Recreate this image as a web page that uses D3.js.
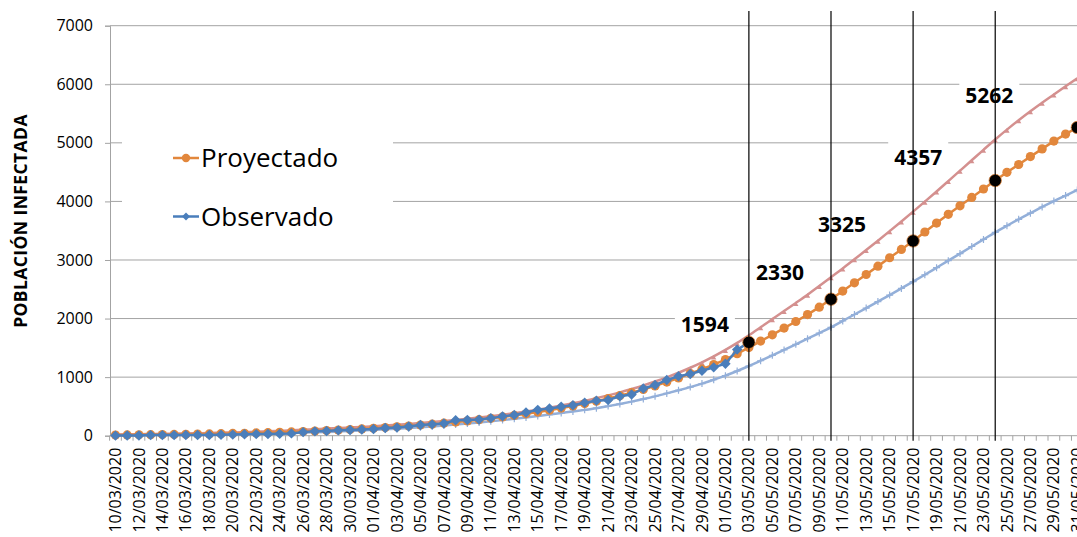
<!DOCTYPE html>
<html>
<head>
<meta charset="utf-8">
<script src="https://cdn.jsdelivr.net/npm/d3@7"></script>
<style>
  body { margin: 0; background: #fff; }
  svg { display: block; }
  text { font-family: "Open Sans", sans-serif; fill: #000; }
</style>
</head>
<body>
<svg id="chart" width="1077" height="537"></svg>
<script>
// Daily categories, 10/03/2020 – 31/05/2020
const dates = [
  "10/03/2020","11/03/2020","12/03/2020","13/03/2020","14/03/2020","15/03/2020","16/03/2020","17/03/2020",
  "18/03/2020","19/03/2020","20/03/2020","21/03/2020","22/03/2020","23/03/2020","24/03/2020","25/03/2020",
  "26/03/2020","27/03/2020","28/03/2020","29/03/2020","30/03/2020","31/03/2020",
  "01/04/2020","02/04/2020","03/04/2020","04/04/2020","05/04/2020","06/04/2020","07/04/2020","08/04/2020",
  "09/04/2020","10/04/2020","11/04/2020","12/04/2020","13/04/2020","14/04/2020","15/04/2020","16/04/2020",
  "17/04/2020","18/04/2020","19/04/2020","20/04/2020","21/04/2020","22/04/2020","23/04/2020","24/04/2020",
  "25/04/2020","26/04/2020","27/04/2020","28/04/2020","29/04/2020","30/04/2020",
  "01/05/2020","02/05/2020","03/05/2020","04/05/2020","05/05/2020","06/05/2020","07/05/2020","08/05/2020",
  "09/05/2020","10/05/2020","11/05/2020","12/05/2020","13/05/2020","14/05/2020","15/05/2020","16/05/2020",
  "17/05/2020","18/05/2020","19/05/2020","20/05/2020","21/05/2020","22/05/2020","23/05/2020","24/05/2020",
  "25/05/2020","26/05/2020","27/05/2020","28/05/2020","29/05/2020","30/05/2020","31/05/2020"
];

// Projected infected population (one value per day)
const projected = [
  11, 13, 15, 17, 19, 21, 24, 27, 30, 34,
  38, 42, 47, 52, 58, 64, 71, 79, 87, 96,
  106, 116, 127, 139, 152, 166, 181, 197, 214, 232,
  252, 273, 296, 320, 346, 374, 404, 436, 471, 508,
  548, 590, 635, 683, 735, 790, 850, 915, 985, 1060,
  1135, 1215, 1300, 1400, 1505, 1615, 1722, 1838, 1950, 2068,
  2195, 2330, 2470, 2610, 2752, 2895, 3038, 3180, 3325, 3478,
  3630, 3780, 3925, 4068, 4212, 4357, 4497, 4630, 4765, 4897,
  5030, 5150, 5262
];

// Observed cases, 10/03/2020 – 03/05/2020
const observed = [
  2, 3, 3, 10, 10, 10, 11, 11, 12, 15,
  19, 24, 27, 29, 32, 39, 61, 74, 81, 91,
  97, 107, 115, 132, 139, 157, 183, 194, 210, 264,
  268, 275, 300, 330, 354, 397, 441, 465, 493, 520,
  564, 598, 609, 672, 703, 807, 866, 950, 1014, 1053,
  1110, 1167, 1229, 1470, 1594
];

// Upper and lower band of the projection
const upperBound = [
  22, 24, 26, 29, 32, 35, 38, 42, 46, 51, 56, 62, 68, 75, 83, 91, 100, 110,
  121, 130, 140, 150, 162, 174, 187, 201, 216, 232, 249, 268, 288, 310, 333, 358, 385, 414, 445, 479, 515, 553, 595,
  640, 688, 740, 797, 858, 925, 997, 1075, 1160, 1253, 1354, 1464, 1584, 1715, 1852, 1990, 2128, 2267, 2408, 2555, 2706,
  2856, 3011, 3169, 3330, 3493, 3658, 3825, 3996, 4170, 4347, 4525, 4703, 4881, 5058, 5226, 5386, 5539, 5685, 5825, 5965, 6102
];
const lowerBound = [
  6, 7, 8, 9, 11, 12, 14, 16, 18, 21, 24, 27, 31, 35, 40, 45, 51, 57, 64, 72,
  80, 89, 99, 109, 120, 132, 145, 159, 174, 190, 207, 225, 245, 266, 288, 311, 335, 360, 387, 415, 441,
  470, 505, 542, 582, 625, 672, 722, 775, 830, 890, 955, 1025, 1105, 1190,
  1280, 1372, 1465, 1560, 1656, 1753, 1851, 1960, 2069, 2179, 2290, 2401, 2515, 2630,
  2748, 2868, 2988, 3109, 3230, 3351, 3472, 3585, 3695, 3800, 3905, 4005, 4100, 4195
];

// Highlighted weekly values
const markedDates = ["03/05/2020", "10/05/2020", "17/05/2020", "24/05/2020", "31/05/2020"];
const markedValues = [1594, 2330, 3325, 4357, 5262];
const guideDates = ["03/05/2020", "10/05/2020", "17/05/2020", "24/05/2020"];

const yTicks = [0, 1000, 2000, 3000, 4000, 5000, 6000, 7000];
const legendNames = ["Proyectado", "Observado"];
const yTitle = "POBLACIÓN INFECTADA";

// ---- layout & style ----
const plotLeft = 110, plotRight = 1077, plotTop = 25.7, plotBottom = 435.7;
const step = 11.73;
const colors = {
  projected: "#E2873C",
  observed: "#4A7EBB",
  upper: "#D4908F",
  lower: "#93AFD9",
  grid: "#A3A3A3"
};
// label placement relative to its point: [dx of text centre, dy of baseline]
const labelNudge = [[-44, -10], [-51, -19], [-71, -9], [-77, -16], [-88, -24]];

const svg = d3.select("#chart");

const x = d3.scaleBand()
  .domain(dates)
  .range([plotLeft - 0.4, plotLeft - 0.4 + dates.length * step])
  .paddingInner(0).paddingOuter(0);
const cx = d => x(d) + x.bandwidth() / 2;

const y = d3.scaleLinear().domain([0, 7000]).range([plotBottom, plotTop]);

// horizontal gridlines
svg.append("g").selectAll("line").data(yTicks.slice(1)).join("line")
  .attr("x1", plotLeft).attr("x2", plotRight)
  .attr("y1", d => y(d)).attr("y2", d => y(d))
  .attr("stroke", colors.grid).attr("stroke-width", 1);

// y axis
const yAxis = svg.append("g")
  .attr("transform", `translate(${plotLeft},0)`)
  .call(d3.axisLeft(y).tickValues(yTicks).tickSize(5).tickPadding(12).tickFormat(d3.format("d")));
yAxis.select(".domain").attr("stroke", colors.grid);
yAxis.selectAll(".tick line").attr("stroke", colors.grid);
yAxis.selectAll(".tick text").style("font-size", "16px").style("font-family", "'Open Sans', sans-serif");

// x axis: line, category boundary ticks, rotated labels every second day
const xAxis = svg.append("g").attr("transform", `translate(0,${plotBottom})`);
xAxis.append("line").attr("x1", plotLeft).attr("x2", plotRight)
  .attr("stroke", colors.grid);
xAxis.selectAll("line.bt").data(dates).join("line").attr("class", "bt")
  .attr("x1", d => x(d)).attr("x2", d => x(d))
  .attr("y1", 0).attr("y2", 5)
  .attr("stroke", colors.grid);
const labelAxis = svg.append("g")
  .attr("transform", `translate(0,${plotBottom})`)
  .call(d3.axisBottom(x).tickValues(dates.filter((d, i) => i % 2 === 0)).tickSize(0).tickPadding(0));
labelAxis.select(".domain").remove();
labelAxis.selectAll(".tick text")
  .attr("transform", "translate(0,12) rotate(-90)")
  .attr("text-anchor", "end")
  .attr("x", 0).attr("y", 0).attr("dy", "0.35em")
  .style("font-size", "16px").style("font-family", "'Open Sans', sans-serif");

// y axis title
svg.append("text")
  .attr("transform", `translate(27,221) rotate(-90)`)
  .attr("text-anchor", "middle")
  .style("font-size", "17.5px").style("font-weight", "700").style("letter-spacing", "0.4px")
  .text(yTitle);

// white boxes behind labels and legend
const labelLayer = svg.append("g");
svg.append("rect")
  .attr("x", 122).attr("y", 132).attr("width", 271).attr("height", 104).attr("fill", "#fff");

const seriesLayer = svg.append("g");

const smooth = d3.line().x((d, i) => cx(dates[i])).y(d => y(d)).curve(d3.curveMonotoneX);
const straight = d3.line().x((d, i) => cx(dates[i])).y(d => y(d));

// lower band
seriesLayer.append("path").datum(lowerBound)
  .attr("d", smooth).attr("fill", "none")
  .attr("stroke", colors.lower).attr("stroke-width", 2.5);
seriesLayer.append("g").selectAll("path").data(lowerBound).join("path")
  .attr("transform", (d, i) => `translate(${cx(dates[i])},${y(d)})`)
  .attr("d", "M-3.5,0H3.5M0,-3.5V3.5")
  .attr("stroke", colors.lower).attr("stroke-width", 1.2);

// upper band
seriesLayer.append("path").datum(upperBound)
  .attr("d", smooth).attr("fill", "none")
  .attr("stroke", colors.upper).attr("stroke-width", 2.5);
seriesLayer.append("g").selectAll("path").data(upperBound).join("path")
  .attr("transform", (d, i) => `translate(${cx(dates[i])},${y(d) + 1.5})`)
  .attr("d", d3.symbol(d3.symbolTriangle, 12))
  .attr("fill", colors.upper);

// projected
seriesLayer.append("path").datum(projected)
  .attr("d", straight).attr("fill", "none")
  .attr("stroke", colors.projected).attr("stroke-width", 2.5);
seriesLayer.append("g").selectAll("circle").data(projected).join("circle")
  .attr("cx", (d, i) => cx(dates[i])).attr("cy", d => y(d)).attr("r", 4.6)
  .attr("fill", colors.projected);

// observed
const diamond = "M0,-5.2L5.2,0L0,5.2L-5.2,0Z";
seriesLayer.append("path").datum(observed)
  .attr("d", straight).attr("fill", "none")
  .attr("stroke", colors.observed).attr("stroke-width", 2.5);
seriesLayer.append("g").selectAll("path").data(observed).join("path")
  .attr("transform", (d, i) => `translate(${cx(dates[i])},${y(d)})`)
  .attr("d", diamond).attr("fill", colors.observed);

// highlighted points
seriesLayer.append("g").selectAll("circle").data(markedValues).join("circle")
  .attr("cx", (d, i) => cx(markedDates[i])).attr("cy", d => y(d)).attr("r", 6.2)
  .attr("fill", "#000").attr("stroke", colors.projected).attr("stroke-width", 0.8);

// vertical guide lines
svg.append("g").selectAll("line").data(guideDates).join("line")
  .attr("x1", d => cx(d)).attr("x2", d => cx(d))
  .attr("y1", 11).attr("y2", plotBottom + 5)
  .attr("stroke", "#000").attr("stroke-width", 1.2);

// value labels with white backing
markedValues.forEach((v, i) => {
  const px = cx(markedDates[i]) + labelNudge[i][0];
  const py = y(v) + labelNudge[i][1];
  const t = svg.append("text")
    .attr("x", px).attr("y", py)
    .attr("text-anchor", "middle")
    .style("font-size", "21px").style("font-weight", "700")
    .text(d3.format("d")(v));
  const bb = t.node().getBBox();
  labelLayer.append("rect")
    .attr("x", bb.x - 6).attr("width", bb.width + 12)
    .attr("y", py - 23).attr("height", 29)
    .attr("fill", "#fff");
});

// legend
const legend = svg.append("g");
const legendRows = [
  { name: legendNames[0], color: colors.projected, y: 158, marker: "circle" },
  { name: legendNames[1], color: colors.observed, y: 216.5, marker: "diamond" }
];
legendRows.forEach(r => {
  legend.append("line").attr("x1", 173).attr("x2", 199).attr("y1", r.y).attr("y2", r.y)
    .attr("stroke", r.color).attr("stroke-width", 2.5);
  if (r.marker === "circle") {
    legend.append("circle").attr("cx", 186).attr("cy", r.y).attr("r", 4.2).attr("fill", r.color);
  } else {
    legend.append("path").attr("transform", `translate(186,${r.y})`)
      .attr("d", "M0,-4L4,0L0,4L-4,0Z").attr("fill", r.color);
  }
  legend.append("text").attr("x", 201).attr("y", r.y + 9)
    .style("font-size", "26px").text(r.name);
});
</script>
</body>
</html>
